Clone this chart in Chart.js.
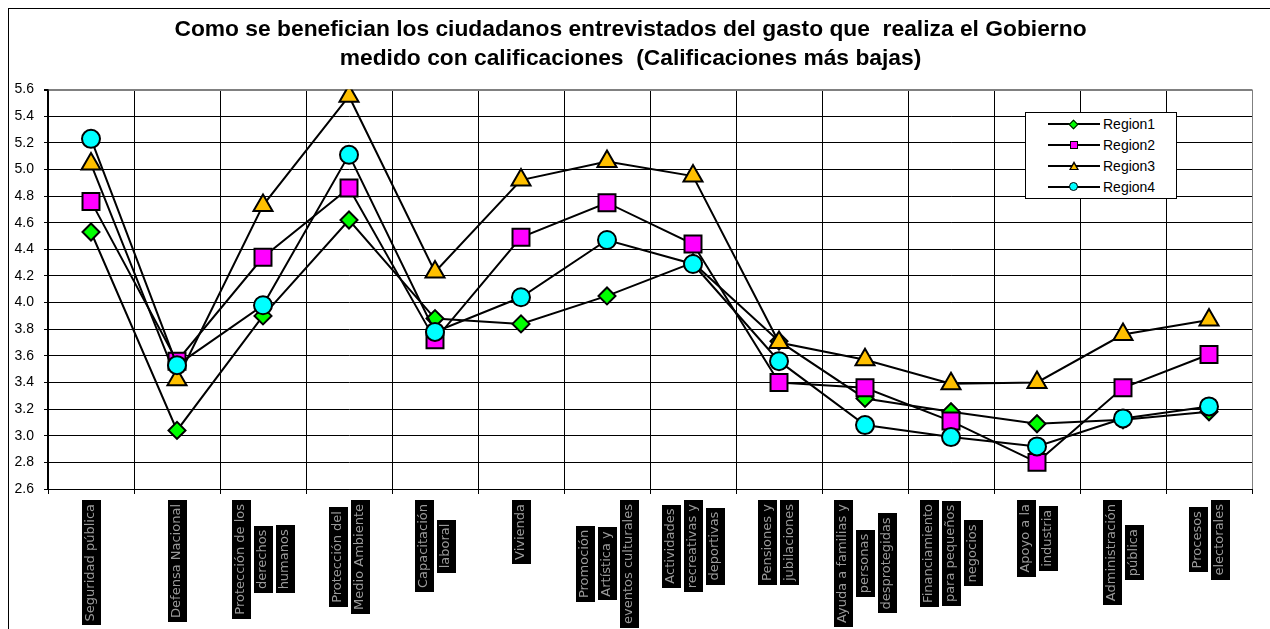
<!DOCTYPE html>
<html>
<head>
<meta charset="utf-8">
<script src="https://cdn.jsdelivr.net/npm/chart.js@4.4.1/dist/chart.umd.min.js"></script>
<style>
  html, body { margin: 0; padding: 0; background: #fff; }
  #frame { position: absolute; left: 8px; top: 8px; width: 1262px; height: 621px;
           border-left: 1px solid #000; border-top: 1px solid #000; box-sizing: border-box; }
  #c { position: absolute; left: 0; top: 0; }
  #legend { position: absolute; left: 1025px; top: 112px; width: 152px; height: 87px;
            border: 1px solid #000; background: #fff; box-sizing: border-box;
            font-family: "Liberation Sans", Arial, sans-serif; font-size: 14px; color: #000; }
  .row { position: absolute; left: 0; width: 150px; height: 20px; }
  .row .ln { position: absolute; left: 22px; top: 9px; width: 52px; height: 2px; background: #000; }
  .row .mk { position: absolute; box-sizing: border-box; border: 1.5px solid #000; }
  .row .tx { position: absolute; left: 77px; top: 1px; line-height: 18px; }
  .tri { position: absolute; left: 43px; top: 5px; width: 0; height: 0;
         border-left: 5px solid transparent; border-right: 5px solid transparent; border-bottom: 9px solid #000; }
  .tri2 { position: absolute; left: 45px; top: 8px; width: 0; height: 0;
         border-left: 3px solid transparent; border-right: 3px solid transparent; border-bottom: 5px solid #FFC000; }
</style>
</head>
<body>
<div id="frame"><canvas id="c" width="1261" height="620"></canvas></div>
<div id="legend"></div>
<script>
const titleLines = [
  "Como se benefician los ciudadanos entrevistados del gasto que  realiza el Gobierno",
  "medido con calificaciones  (Calificaciones más bajas)"
];
const categories = [
  ["Seguridad pública"],
  ["Defensa Nacional"],
  ["Protección de los", "derechos", "humanos"],
  ["Protección del", "Medio Ambiente"],
  ["Capacitación", "laboral"],
  ["Vivienda"],
  ["Promoción", "Artística y", "eventos culturales"],
  ["Actividades", "recreativas y", "deportivas"],
  ["Pensiones y", "jubilaciones"],
  ["Ayuda a familias y", "personas", "desprotegidas"],
  ["Financiamiento", "para pequeños", "negocios"],
  ["Apoyo a la", "industria"],
  ["Administración", "pública"],
  ["Procesos", "electorales"]
];
const seriesNames = ["Region1", "Region2", "Region3", "Region4"];
const region1 = [4.53, 3.04, 3.90, 4.62, 3.88, 3.84, 4.05, 4.30, 3.71, 3.28, 3.18, 3.09, 3.12, 3.18];
const region2 = [4.76, 3.56, 4.34, 4.86, 3.72, 4.49, 4.75, 4.44, 3.40, 3.36, 3.11, 2.80, 3.36, 3.61];
const region3 = [5.04, 3.42, 4.73, 5.55, 4.23, 4.92, 5.06, 4.95, 3.70, 3.57, 3.39, 3.40, 3.76, 3.87];
const region4 = [5.23, 3.53, 3.98, 5.11, 3.78, 4.04, 4.47, 4.29, 3.56, 3.08, 2.99, 2.92, 3.13, 3.22];
const yMin = 2.6, yMax = 5.6, yStep = 0.2;

const markerFill = ["#00FF00", "#FF00FF", "#FFC000", "#00FFFF"];
const markerShape = ["rectRot", "rect", "triangle", "circle"];
const markerRadius = [8.5, 12, 11, 9];
const allSeries = [region1, region2, region3, region4];

const datasets = allSeries.map((d, i) => ({
  label: seriesNames[i],
  data: d,
  borderColor: "#000",
  borderWidth: 2,
  tension: 0,
  fill: false,
  pointStyle: markerShape[i],
  pointRadius: markerRadius[i],
  pointHoverRadius: markerRadius[i],
  pointBackgroundColor: markerFill[i],
  pointBorderColor: "#000",
  pointBorderWidth: 2,
  order: 3 - i
}));

const xLabelPlugin = {
  id: "xLabels",
  afterDraw(chart) {
    const { ctx } = chart;
    const x = chart.scales.x;
    ctx.save();
    ctx.font = '13px "DejaVu Sans"';
    const pitch = 22, boxW = 19, topY = x.top + 11;
    chart.data.labels.forEach((lab, i) => {
      const lines = [].concat(lab);
      const cx = x.getPixelForTick(i);
      const lens = lines.map(l => ctx.measureText(l).width + 8);
      const maxL = Math.max(...lens);
      const n = lines.length;
      lines.forEach((l, j) => {
        const lx = cx + (j - (n - 1) / 2) * pitch;
        const len = lens[j];
        const y0 = topY + (maxL - len) / 2;
        ctx.fillStyle = "#000";
        ctx.fillRect(Math.round(lx - boxW / 2), Math.round(y0), boxW, Math.round(len));
        ctx.save();
        ctx.translate(lx, y0 + len - 4);
        ctx.rotate(-Math.PI / 2);
        ctx.fillStyle = "#9a9a9a";
        ctx.textAlign = "left";
        ctx.textBaseline = "middle";
        ctx.fillText(l, 0, 0);
        ctx.restore();
      });
    });
    ctx.restore();
  }
};

const chart = new Chart(document.getElementById("c"), {
  type: "line",
  data: { labels: categories, datasets },
  options: {
    responsive: false,
    animation: false,
    layout: { padding: { left: 0, right: 18, top: 0, bottom: 0 } },
    plugins: {
      legend: { display: false },
      tooltip: { enabled: false },
      title: {
        display: true,
        text: titleLines,
        color: "#000",
        font: { family: '"Liberation Sans", Arial, sans-serif', size: 22.8, weight: "bold", lineHeight: 1.24 },
        padding: { top: 7, bottom: 17 }
      }
    },
    scales: {
      x: {
        type: "category",
        offset: true,
        grid: {
          offset: true,
          color: (c) => (c.type === "tick" ? "#000" : "#808080"),
          lineWidth: 1,
          drawTicks: true,
          tickLength: 5,
          tickColor: "#000"
        },
        border: { display: true, color: "#000", width: 1 },
        ticks: { display: false },
        afterFit(s) { s.height = 140; }
      },
      y: {
        min: yMin,
        max: yMax,
        ticks: {
          stepSize: yStep,
          color: "#000",
          padding: 10,
          font: { family: '"Liberation Sans", Arial, sans-serif', size: 14 },
          callback: (v) => Number(v).toFixed(1)
        },
        grid: {
          color: (c) => (c.tick && Math.abs(c.tick.value - yMax) < 1e-6 ? "#808080" : "#000"),
          lineWidth: (c) => (c.tick && Math.abs(c.tick.value - yMax) < 1e-6 ? 2 : 1),
          drawTicks: true,
          tickLength: 4,
          tickColor: "#000"
        },
        border: { display: true, color: "#000", width: 1.5 },
        afterFit(s) { s.width = 39; }
      }
    }
  },
  plugins: [xLabelPlugin]
});

// HTML legend built from the series names and marker styles
const legend = document.getElementById("legend");
seriesNames.forEach((name, i) => {
  const row = document.createElement("div");
  row.className = "row";
  row.style.top = (1 + 21 * i) + "px";
  const ln = document.createElement("div"); ln.className = "ln"; row.appendChild(ln);
  if (markerShape[i] === "triangle") {
    const t = document.createElement("div"); t.className = "tri"; row.appendChild(t);
    const t2 = document.createElement("div"); t2.className = "tri2"; row.appendChild(t2);
  } else {
    const mk = document.createElement("div"); mk.className = "mk";
    mk.style.background = markerFill[i];
    if (markerShape[i] === "rectRot") { mk.style.left = "44px"; mk.style.top = "7px"; mk.style.width = "7px"; mk.style.height = "7px"; mk.style.transform = "rotate(45deg)"; }
    if (markerShape[i] === "rect") { mk.style.left = "44px"; mk.style.top = "6px"; mk.style.width = "8px"; mk.style.height = "8px"; }
    if (markerShape[i] === "circle") { mk.style.left = "43px"; mk.style.top = "5px"; mk.style.width = "9px"; mk.style.height = "9px"; mk.style.borderRadius = "50%"; }
    row.appendChild(mk);
  }
  const tx = document.createElement("div"); tx.className = "tx"; tx.textContent = name; row.appendChild(tx);
  legend.appendChild(row);
});
</script>
</body>
</html>
